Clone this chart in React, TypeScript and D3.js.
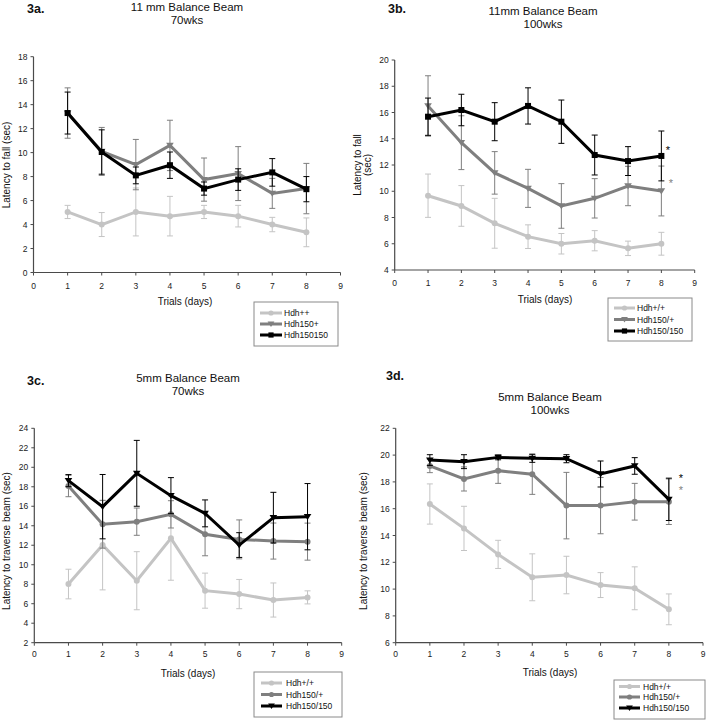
import React from "react";
import * as d3 from "d3";

// ---------- data ----------
const trials = [1, 2, 3, 4, 5, 6, 7, 8];
const xTicks = [0, 1, 2, 3, 4, 5, 6, 7, 8, 9];

// 3a: 11 mm beam, 70 wks
const aWT = [5.05, 4.0, 5.05, 4.7, 5.05, 4.7, 4.0, 3.35];
const aWTErr = [0.55, 1.0, 2.0, 1.65, 0.55, 0.9, 0.6, 1.2];
const aHet = [13.3, 10.1, 9.0, 10.6, 7.75, 8.25, 6.6, 7.0];
const aHetErr = [2.1, 2.0, 2.1, 2.1, 1.8, 2.25, 1.25, 2.1];
const aHom = [13.3, 10.05, 8.1, 8.95, 7.0, 7.75, 8.35, 6.95];
const aHomErr = [1.75, 1.85, 0.7, 1.1, 0.55, 0.9, 1.15, 1.05];

// 3b: 11 mm beam, 100 wks
const bWT = [9.66, 8.88, 7.56, 6.54, 6.0, 6.23, 5.65, 6.0];
const bWTErr = [1.65, 1.55, 1.9, 0.9, 0.78, 0.77, 0.55, 0.87];
const bHet = [16.5, 13.7, 11.4, 10.22, 8.88, 9.46, 10.4, 10.02];
const bHetErr = [2.3, 2.05, 1.62, 1.45, 1.7, 1.5, 1.5, 1.9];
const bHom = [15.68, 16.19, 15.3, 16.5, 15.3, 12.76, 12.3, 12.69];
const bHomErr = [1.42, 1.2, 1.45, 1.38, 1.65, 1.52, 1.1, 1.9];

// 3c: 5 mm beam, 70 wks
const cWT = [8.02, 12.02, 8.36, 12.71, 7.34, 6.99, 6.38, 6.65];
const cWTErr = [1.52, 4.6, 2.98, 4.3, 1.8, 1.5, 1.75, 0.67];
const cHet = [18.08, 14.15, 14.42, 15.17, 13.12, 12.6, 12.43, 12.37];
const cHetErr = [1.1, 2.45, 1.4, 1.4, 2.2, 2.0, 1.85, 1.9];
const cHom = [18.63, 15.96, 19.38, 17.09, 15.27, 12.02, 14.83, 14.93];
const cHomErr = [0.62, 3.3, 3.38, 1.85, 1.38, 1.27, 2.6, 3.4];

// 3d: 5 mm beam, 100 wks
const dWT = [16.35, 14.53, 12.59, 10.88, 11.05, 10.3, 10.06, 8.49];
const dWTErr = [1.5, 1.65, 1.05, 1.75, 1.4, 0.93, 1.6, 1.15];
const dHet = [19.19, 18.22, 18.84, 18.57, 16.23, 16.23, 16.52, 16.52];
const dHetErr = [0.5, 0.9, 0.95, 1.5, 2.48, 2.1, 1.37, 1.7];
const dHom = [19.63, 19.51, 19.83, 19.76, 19.73, 18.59, 19.19, 16.7];
const dHomErr = [0.4, 0.52, 0.18, 0.3, 0.3, 0.97, 0.62, 1.58];

const legendA = ["Hdh++", "Hdh150+", "Hdh150150"];
const legendB = ["Hdh+/+", "Hdh150/+", "Hdh150/150"];

const ticksA = [0, 2, 4, 6, 8, 10, 12, 14, 16, 18];
const ticksB = [4, 6, 8, 10, 12, 14, 16, 18, 20];
const ticksC = [2, 4, 6, 8, 10, 12, 14, 16, 18, 20, 22, 24];
const ticksD = [6, 8, 10, 12, 14, 16, 18, 20, 22];

// ---------- styling ----------
const FONT = "'Liberation Sans', Arial, Helvetica, sans-serif";
const C_WT = "#c4c4c4";
const C_HET = "#7f7f7f";
const C_HOM = "#000000";
const AXIS = "#4a4a4a";

type Marker = "circle" | "tri" | "square";

interface Series {
  values: number[];
  errs: number[];
  color: string;
  marker: Marker;
}

function MarkerShape({ type, x, y, color, s = 3 }: { type: Marker; x: number; y: number; color: string; s?: number }) {
  if (type === "circle") return <circle cx={x} cy={y} r={s} fill={color} />;
  if (type === "square")
    return <rect x={x - s} y={y - s} width={2 * s} height={2 * s} fill={color} />;
  const h = s + 0.8;
  return (
    <path
      d={`M${x - h},${y - h * 0.7} L${x + h},${y - h * 0.7} L${x},${y + h * 0.9} Z`}
      fill={color}
    />
  );
}

interface PanelProps {
  x0: number;
  x9: number;
  yTop: number;
  yBot: number;
  yDomain: [number, number];
  yTicks: number[];
  series: Series[];
  tag: string;
  tagX: number;
  tagY: number;
  title1: string;
  title2: string;
  titleX: number;
  titleY1: number;
  titleY2: number;
  yLabel: string[];
  yLabelX: number;
  yLabelY: number;
  tickLabelDy: number;
  xLabelX: number;
  xLabelY: number;
  legend: string[];
  legendBox: [number, number, number, number];
  legendRows: number[];
  legendLineX: [number, number];
  legendTextX: number;
  stars?: { x: number; y: number; color: string }[];
}

function Panel(p: PanelProps) {
  const xs = d3.scaleLinear().domain([0, 9]).range([p.x0, p.x9]);
  const ys = d3.scaleLinear().domain(p.yDomain).range([p.yBot, p.yTop]);
  const line = d3
    .line<number>()
    .x((_, i) => xs(trials[i]))
    .y((v) => ys(v));
  const cap = 3;
  return (
    <g>
      {/* titles */}
      <text x={p.tagX} y={p.tagY} fontSize={12.5} fontWeight="bold" fill="#111">
        {p.tag}
      </text>
      <text x={p.titleX} y={p.titleY1} fontSize={11.5} textAnchor="middle" fill="#111">
        {p.title1}
      </text>
      <text x={p.titleX} y={p.titleY2} fontSize={11.5} textAnchor="middle" fill="#111">
        {p.title2}
      </text>
      {/* y label */}
      {p.yLabel.map((t, i) => (
        <text
          key={i}
          transform={`translate(${p.yLabelX + i * 10},${p.yLabelY}) rotate(-90)`}
          fontSize={10}
          textAnchor="middle"
          fill="#111"
        >
          {t}
        </text>
      ))}
      {/* axes */}
      <line x1={p.x0} x2={p.x0} y1={p.yTop} y2={p.yBot} stroke={AXIS} strokeWidth={1.2} />
      <line x1={p.x0} x2={p.x9} y1={p.yBot} y2={p.yBot} stroke={AXIS} strokeWidth={1.2} />
      {p.yTicks.map((t) => (
        <g key={"y" + t}>
          <line x1={p.x0 - 3} x2={p.x0} y1={ys(t)} y2={ys(t)} stroke={AXIS} strokeWidth={1} />
          <text x={p.x0 - 6} y={ys(t) + 3} fontSize={8.5} textAnchor="end" fill="#222">
            {t}
          </text>
        </g>
      ))}
      {xTicks.map((t) => (
        <g key={"x" + t}>
          <line x1={xs(t)} x2={xs(t)} y1={p.yBot} y2={p.yBot + 3} stroke={AXIS} strokeWidth={1} />
          <text x={xs(t)} y={p.yBot + p.tickLabelDy} fontSize={8.5} textAnchor="middle" fill="#222">
            {t}
          </text>
        </g>
      ))}
      <text x={p.xLabelX} y={p.xLabelY} fontSize={10} textAnchor="middle" fill="#111">
        Trials (days)
      </text>
      {/* series */}
      {p.series.map((s, si) => (
        <g key={si}>
          {s.values.map((v, i) => {
            const x = xs(trials[i]);
            const hi = ys(v + s.errs[i]);
            const lo = ys(v - s.errs[i]);
            return (
              <g key={i} stroke={s.color} strokeWidth={1}>
                <line x1={x} x2={x} y1={hi} y2={lo} />
                <line x1={x - cap} x2={x + cap} y1={hi} y2={hi} />
                <line x1={x - cap} x2={x + cap} y1={lo} y2={lo} />
              </g>
            );
          })}
          <path d={line(s.values) || ""} fill="none" stroke={s.color} strokeWidth={3} strokeLinejoin="miter" />
          {s.values.map((v, i) => (
            <MarkerShape key={i} type={s.marker} x={xs(trials[i])} y={ys(v)} color={s.color} />
          ))}
        </g>
      ))}
      {(p.stars || []).map((st, i) => (
        <text key={i} x={st.x} y={st.y + 5} fontSize={11} textAnchor="middle" fill={st.color}>
          *
        </text>
      ))}
      {/* legend */}
      <rect
        x={p.legendBox[0]}
        y={p.legendBox[1]}
        width={p.legendBox[2] - p.legendBox[0]}
        height={p.legendBox[3] - p.legendBox[1]}
        fill="#fff"
        stroke="#8a8a8a"
        strokeWidth={1}
      />
      {p.legend.map((lab, i) => {
        const y = p.legendRows[i];
        const s = p.series[i];
        const mx = (p.legendLineX[0] + p.legendLineX[1]) / 2;
        return (
          <g key={lab}>
            <line x1={p.legendLineX[0]} x2={p.legendLineX[1]} y1={y} y2={y} stroke={s.color} strokeWidth={3} />
            <MarkerShape type={s.marker} x={mx} y={y} color={s.color} s={2.6} />
            <text x={p.legendTextX} y={y + 3.2} fontSize={8.5} fill="#111">
              {lab}
            </text>
          </g>
        );
      })}
    </g>
  );
}

export default function App() {
  const mk = (v: number[], e: number[], c: string, m: Marker): Series => ({ values: v, errs: e, color: c, marker: m });
  return (
    <div style={{ position: "absolute", left: 0, top: 0 }}>
      <svg width={706} height={720} style={{ display: "block", fontFamily: FONT, background: "#fff" }}>
        <rect width={706} height={720} fill="#fff" />
        <Panel
          x0={33.5}
          x9={340.5}
          yTop={56.7}
          yBot={272.5}
          yDomain={[0, 18]}
          yTicks={ticksA}
          series={[mk(aWT, aWTErr, C_WT, "circle"), mk(aHet, aHetErr, C_HET, "tri"), mk(aHom, aHomErr, C_HOM, "square")]}
          tag="3a."
          tagX={27}
          tagY={13}
          title1="11 mm Balance Beam"
          title2="70wks"
          titleX={187}
          titleY1={11}
          titleY2={24}
          yLabel={["Latency to fall (sec)"]}
          yLabelX={9.5}
          yLabelY={165}
          tickLabelDy={16}
          xLabelX={185}
          xLabelY={305}
          legend={legendA}
          legendBox={[254, 302, 338, 346]}
          legendRows={[313, 324, 335]}
          legendLineX={[260, 282]}
          legendTextX={284}
        />
        <Panel
          x0={394.7}
          x9={694.7}
          yTop={60}
          yBot={270}
          yDomain={[4, 20]}
          yTicks={ticksB}
          series={[mk(bWT, bWTErr, C_WT, "circle"), mk(bHet, bHetErr, C_HET, "tri"), mk(bHom, bHomErr, C_HOM, "square")]}
          tag="3b."
          tagX={388}
          tagY={13}
          title1="11mm Balance Beam"
          title2="100wks"
          titleX={543}
          titleY1={15}
          titleY2={28}
          yLabel={["Latency to fall", "(sec)"]}
          yLabelX={361}
          yLabelY={165}
          tickLabelDy={15.5}
          xLabelX={545}
          xLabelY={303}
          legend={legendB}
          legendBox={[608, 298, 692, 341]}
          legendRows={[308, 319.5, 331]}
          legendLineX={[614, 635]}
          legendTextX={637}
          stars={[
            { x: 668, y: 149, color: "#000" },
            { x: 671, y: 182, color: C_HET },
          ]}
        />
        <Panel
          x0={34.3}
          x9={341.7}
          yTop={428.3}
          yBot={642.7}
          yDomain={[2, 24]}
          yTicks={ticksC}
          series={[mk(cWT, cWTErr, C_WT, "circle"), mk(cHet, cHetErr, C_HET, "circle"), mk(cHom, cHomErr, C_HOM, "tri")]}
          tag="3c."
          tagX={27}
          tagY={385}
          title1="5mm Balance Beam"
          title2="70wks"
          titleX={188}
          titleY1={382}
          titleY2={395}
          yLabel={["Latency to traverse beam (sec)"]}
          yLabelX={10}
          yLabelY={541}
          tickLabelDy={14.5}
          xLabelX={188}
          xLabelY={677}
          legend={legendB}
          legendBox={[254, 672, 342, 717]}
          legendRows={[683, 694.5, 706]}
          legendLineX={[261, 282]}
          legendTextX={286}
        />
        <Panel
          x0={395.7}
          x9={703}
          yTop={428.3}
          yBot={642.7}
          yDomain={[6, 22]}
          yTicks={ticksD}
          series={[mk(dWT, dWTErr, C_WT, "circle"), mk(dHet, dHetErr, C_HET, "circle"), mk(dHom, dHomErr, C_HOM, "tri")]}
          tag="3d."
          tagX={386}
          tagY={380}
          title1="5mm Balance Beam"
          title2="100wks"
          titleX={550}
          titleY1={401}
          titleY2={414}
          yLabel={["Latency to traverse beam (sec)"]}
          yLabelX={367}
          yLabelY={541}
          tickLabelDy={14.5}
          xLabelX={550}
          xLabelY={676}
          legend={legendB}
          legendBox={[614, 680, 705, 719]}
          legendRows={[686.5, 697, 708]}
          legendLineX={[619, 640]}
          legendTextX={643}
          stars={[
            { x: 681, y: 477, color: "#000" },
            { x: 681, y: 489, color: C_HET },
          ]}
        />
      </svg>
    </div>
  );
}
